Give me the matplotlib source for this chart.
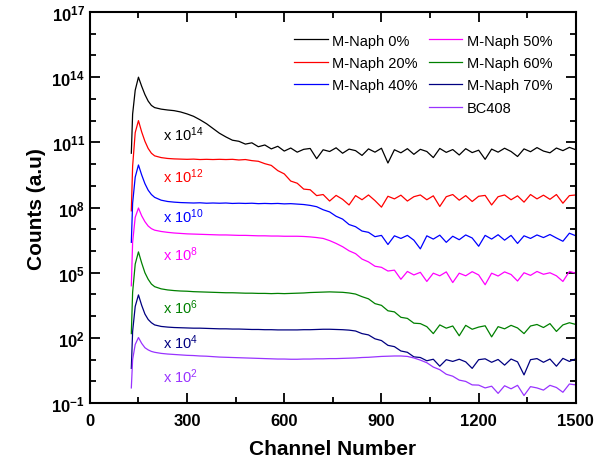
import numpy as np
import matplotlib
matplotlib.use("Agg")
import matplotlib.pyplot as plt
from matplotlib.ticker import FixedLocator, FuncFormatter
from matplotlib.lines import Line2D

plt.rcParams["font.family"] = ["Liberation Sans", "DejaVu Sans"]
plt.rcParams["mathtext.fontset"] = "custom"
plt.rcParams["mathtext.rm"] = "Liberation Sans"
plt.rcParams["mathtext.bf"] = "Liberation Sans:bold"
plt.rcParams["mathtext.default"] = "regular"

# Channel grid (x) -- the same for all spectra
channel = [128, 132, 140, 150, 160, 170, 180, 190, 200] + list(range(220, 1501, 20))

# log10(counts), already multiplied by the offset factor
log_m0 = [10.5, 12.3, 13.4, 14.0, 13.58, 13.2, 12.9, 12.7, 12.6,
          12.53, 12.49, 12.46, 12.40, 12.31, 12.20, 12.04, 11.86, 11.64, 11.42,
          11.25, 11.10, 11.05, 10.92, 10.98, 10.80, 10.88, 10.70, 10.82, 10.60,
          10.74, 10.55, 10.68, 10.72, 10.25, 10.66, 10.58, 10.75, 10.50, 10.69,
          10.62, 10.40, 10.70, 10.55, 10.73, 10.05, 10.66, 10.52, 10.71, 10.45,
          10.68, 10.58, 10.30, 10.72, 10.54, 10.67, 10.42, 10.71, 10.53, 10.64,
          10.22, 10.69, 10.55, 10.73, 10.58, 10.35, 10.70, 10.57, 10.76, 10.60,
          10.52, 10.74, 10.62, 10.77, 10.66]
log_m20 = [7.85, 9.9, 11.45, 12.0, 11.48, 11.05, 10.72, 10.5, 10.38,
           10.30, 10.26, 10.24, 10.23, 10.22, 10.23, 10.21, 10.22, 10.21, 10.22,
           10.21, 10.22, 10.19, 10.21, 10.16, 10.13, 10.02, 9.94, 9.70, 9.55,
           9.22, 9.12, 8.85, 8.82, 8.55, 8.60, 8.30, 8.56, 8.38, 8.12,
           8.55, 8.36, 8.58, 8.32, 8.02, 8.52, 8.40, 8.57, 8.30, 8.50,
           8.58, 8.36, 8.54, 8.05, 8.50, 8.60, 8.34, 8.55, 8.28, 8.52,
           8.56, 8.12, 8.50, 8.58, 8.36, 8.54, 8.25, 8.60, 8.40, 8.57,
           8.38, 8.60, 8.20, 8.55, 8.58]
log_m40 = [6.4, 8.2, 9.4, 9.96, 9.5, 9.1, 8.8, 8.6, 8.47,
           8.34, 8.28, 8.25, 8.23, 8.22, 8.21, 8.22, 8.20, 8.21, 8.20,
           8.21, 8.19, 8.20, 8.19, 8.20, 8.18, 8.19, 8.18, 8.19, 8.17,
           8.18, 8.16, 8.14, 8.10, 8.04, 7.90, 7.80, 7.60, 7.47, 7.22,
           7.12, 6.92, 6.86, 6.66, 6.72, 6.30, 6.70, 6.58, 6.72, 6.50,
           6.10, 6.70, 6.55, 6.73, 6.40, 6.68, 6.52, 6.74, 6.60, 6.22,
           6.72, 6.55, 6.75, 6.50, 6.72, 6.35, 6.70, 6.58, 6.74, 6.62,
           6.76, 6.60, 6.45, 6.82, 6.70]
log_m50 = [4.4, 6.4, 7.55, 7.98, 7.62, 7.35, 7.15, 7.03, 6.96,
           6.90, 6.86, 6.83, 6.81, 6.79, 6.78, 6.77, 6.76, 6.75, 6.74,
           6.74, 6.73, 6.72, 6.72, 6.71, 6.70, 6.70, 6.69, 6.69, 6.68,
           6.68, 6.68, 6.67, 6.65, 6.62, 6.58, 6.48, 6.35, 6.20, 6.01,
           5.88, 5.63, 5.50, 5.30, 5.25, 5.08, 5.12, 4.70, 5.06, 4.90,
           5.02, 4.60, 4.98, 4.86, 5.04, 4.55, 4.98, 4.86, 5.05, 4.90,
           4.45, 4.98, 4.85, 5.04, 4.92, 4.62, 5.00, 4.88, 5.06, 4.93,
           5.00, 4.86, 4.60, 5.06, 4.98]
log_m60 = [2.2, 4.1, 5.4, 5.96, 5.45, 5.0, 4.7, 4.48, 4.36,
           4.26, 4.21, 4.18, 4.16, 4.15, 4.13, 4.12, 4.11, 4.10, 4.09,
           4.08, 4.08, 4.07, 4.06, 4.06, 4.05, 4.05, 4.04, 4.05, 4.04,
           4.05, 4.06, 4.07, 4.09, 4.10, 4.11, 4.12, 4.11, 4.10, 4.07,
           4.02, 3.90, 3.80, 3.58, 3.50, 3.25, 3.20, 2.95, 2.90, 2.68,
           2.66, 2.52, 2.20, 2.60, 2.45, 2.55, 2.10, 2.58, 2.40, 2.50,
           2.56, 2.05, 2.52, 2.42, 2.58, 2.46, 2.20, 2.55, 2.62, 2.48,
           2.66, 2.30, 2.60, 2.70, 2.62]
log_m70 = [0.6, 2.3, 3.45, 3.98, 3.5, 3.1, 2.85, 2.7, 2.6,
           2.53, 2.50, 2.48, 2.47, 2.46, 2.45, 2.45, 2.44, 2.43, 2.42,
           2.42, 2.41, 2.41, 2.40, 2.39, 2.39, 2.38, 2.38, 2.37, 2.37,
           2.37, 2.37, 2.38, 2.38, 2.39, 2.40, 2.40, 2.39, 2.38, 2.36,
           2.32, 2.20, 2.14, 1.96, 1.88, 1.66, 1.60, 1.40, 1.34, 1.13,
           1.10, 0.95, 1.02, 0.70, 1.00, 0.92, 1.02, 0.90, 0.60, 1.00,
           1.04, 0.88, 1.01, 0.75, 1.03, 0.90, 0.30, 1.00, 1.05, 0.88,
           1.03, 0.70, 1.06, 0.92, 1.04]
log_bc408 = [-0.3, 1.0, 1.7, 2.02, 1.75, 1.55, 1.45, 1.38, 1.34,
             1.29, 1.26, 1.24, 1.22, 1.20, 1.19, 1.17, 1.16, 1.14, 1.12,
             1.11, 1.10, 1.09, 1.08, 1.07, 1.06, 1.05, 1.04, 1.03, 1.03,
             1.02, 1.02, 1.03, 1.03, 1.04, 1.04, 1.05, 1.05, 1.06, 1.07,
             1.08, 1.10, 1.11, 1.13, 1.15, 1.16, 1.17, 1.17, 1.15, 1.08,
             0.98, 0.86, 0.66, 0.54, 0.33, 0.24, 0.06, 0.00, -0.16, -0.17,
             -0.30, -0.22, -0.55, -0.20, -0.34, -0.18, -0.65, -0.24, -0.30, -0.40,
             -0.18, -0.28, -0.50, -0.12, -0.16]

labels = ["M-Naph 0%", "M-Naph 20%", "M-Naph 40%", "M-Naph 50%",
          "M-Naph 60%", "M-Naph 70%", "BC408"]
colors = ["#000000", "#ff0000", "#0000ff", "#ff00ff", "#008000", "#000080", "#9933ff"]
factors = [14, 12, 10, 8, 6, 4, 2]
# where the "x 10^n" notes sit (channel, log10 counts)
note_x = [225, 225, 225, 225, 225, 225, 225]
note_y = [11.38, 9.45, 7.61, 5.86, 3.42, 1.85, 0.24]

series = [log_m0, log_m20, log_m40, log_m50, log_m60, log_m70, log_bc408]

fig = plt.figure(figsize=(6.03, 4.64), dpi=100)
ax = fig.add_axes([0.149, 0.129, 0.806, 0.843])

handles = []
for lg, lab, col in zip(series, labels, colors):
    h, = ax.plot(channel, 10 ** np.array(lg), color=col, lw=0.9, label=lab)
    handles.append(h)

for f, nx, ny, col in zip(factors, note_x, note_y, colors):
    ax.text(nx, 10 ** ny, r"x 10$^{%d}$" % f, color=col, fontsize=10.5,
            va="center", ha="left")

ax.set_yscale("log")
ax.set_xlim(0, 1500)
ax.set_ylim(1e-1, 1e17)

ax.xaxis.set_major_locator(FixedLocator([0, 300, 600, 900, 1200, 1500]))
ax.xaxis.set_minor_locator(FixedLocator([150, 450, 750, 1050, 1350]))
ax.yaxis.set_major_locator(FixedLocator([10.0 ** e for e in range(-1, 18, 3)]))
ax.yaxis.set_minor_locator(FixedLocator([10.0 ** e for e in range(-1, 18)]))
ax.yaxis.set_minor_formatter(FuncFormatter(lambda v, p: ""))
ax.yaxis.set_major_formatter(FuncFormatter(
    lambda v, p: r"$\mathbf{10^{%d}}$" % int(round(np.log10(v)))))

ax.tick_params(which="both", direction="in", top=True, right=True, width=1.3)
ax.tick_params(which="major", length=7, labelsize=12)
ax.tick_params(axis="x", which="major", pad=7)
ax.tick_params(which="minor", length=4)
for lab in ax.get_xticklabels():
    lab.set_fontweight("bold")
for sp in ax.spines.values():
    sp.set_linewidth(1.5)

ax.set_xlabel("Channel Number", fontsize=15, fontweight="bold", labelpad=8)
ax.set_ylabel("Counts (a.u)", fontsize=15, fontweight="bold", labelpad=4)

# blank entry so the first legend column holds only three rows
blank = Line2D([], [], color="none")
ax.legend(handles[:3] + [blank] + handles[3:], labels[:3] + [""] + labels[3:],
          ncol=2, frameon=False, fontsize=10.5, loc="upper right",
          bbox_to_anchor=(0.951, 0.945), borderaxespad=0, borderpad=0,
          handlelength=2.3, handletextpad=0.3, columnspacing=0.75,
          labelspacing=0.58)

fig.savefig("out.png", dpi=100)
